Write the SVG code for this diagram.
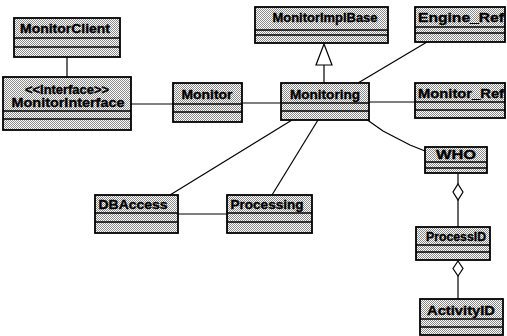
<svg xmlns="http://www.w3.org/2000/svg" width="507" height="336" viewBox="0 0 507 336">
<defs>
<pattern id="stip" patternUnits="userSpaceOnUse" width="2" height="2">
<rect width="2" height="2" fill="#ffffff"/>
<rect width="1" height="1" fill="#8a8a8a"/>
<rect x="1" y="1" width="1" height="1" fill="#8a8a8a"/>
</pattern>
<style>
.box{fill:url(#stip);stroke:#000;stroke-width:1.8}
.div{stroke:#000;stroke-width:1.5;fill:none}
.lbl{font-family:"Liberation Sans",Arial,sans-serif;font-weight:bold;font-size:12px;fill:#000;stroke:#000;stroke-width:0.35;text-anchor:middle}
.con{stroke:#000;stroke-width:1.2;fill:none}
.hollow{fill:#fff;stroke:#000;stroke-width:1.2}
</style>
</defs>
<rect width="507" height="336" fill="#fff"/>
<g id="connectors">
<line class="con" x1="67" y1="57" x2="67" y2="77"/>
<line class="con" x1="131" y1="104" x2="173" y2="104"/>
<line class="con" x1="242" y1="103" x2="281" y2="103"/>
<line class="con" x1="324" y1="65" x2="324" y2="83"/>
<polygon class="hollow" points="324,44 316,65 332,65"/>
<line class="con" x1="427" y1="42" x2="358" y2="83"/>
<line class="con" x1="369" y1="102" x2="415" y2="102"/>
<polyline class="con" points="366,119 383,131 410,145 425,151"/>
<line class="con" x1="292" y1="120" x2="170" y2="195"/>
<line class="con" x1="318" y1="120" x2="272" y2="195"/>
<line class="con" x1="178" y1="214" x2="227" y2="214"/>
<line class="con" x1="458" y1="173" x2="458" y2="184"/>
<polygon class="hollow" points="458,184 463,192 458,200 453,192"/>
<line class="con" x1="458" y1="200" x2="458" y2="227"/>
<polygon class="hollow" points="458,261 463,268.5 458,276 453,268.5"/>
<line class="con" x1="458" y1="276" x2="458" y2="299"/>
</g>
<g id="MonitorClient">
<rect class="box" x="14" y="18" width="106" height="39"/>
<path class="div" d="M14 38H120M14 47H120"/>
<text class="lbl" x="65" y="33" textLength="90" lengthAdjust="spacingAndGlyphs">MonitorClient</text>
</g>
<g id="MonitorInterface">
<rect class="box" x="3" y="77" width="128" height="53"/>
<path class="div" d="M3 111H131M3 119H131"/>
<text class="lbl" x="67" y="94" textLength="84" lengthAdjust="spacingAndGlyphs">&lt;&lt;Interface&gt;&gt;</text>
<text class="lbl" x="68" y="107" textLength="113" lengthAdjust="spacingAndGlyphs">MonitorInterface</text>
</g>
<g id="Monitor">
<rect class="box" x="173" y="83" width="69" height="39"/>
<path class="div" d="M173 104H242M173 112H242"/>
<text class="lbl" x="207" y="99" textLength="51" lengthAdjust="spacingAndGlyphs">Monitor</text>
</g>
<g id="Monitoring">
<rect class="box" x="281" y="83" width="88" height="37"/>
<path class="div" d="M281 103H369M281 111H369"/>
<text class="lbl" x="325" y="99" textLength="70" lengthAdjust="spacingAndGlyphs">Monitoring</text>
</g>
<g id="MonitorImplBase">
<rect class="box" x="255" y="7" width="133" height="36"/>
<path class="div" d="M255 30H388M255 35H388"/>
<text class="lbl" x="325" y="22" textLength="105" lengthAdjust="spacingAndGlyphs">MonitorImplBase</text>
</g>
<g id="Engine_Ref">
<rect class="box" x="415" y="7" width="90" height="35"/>
<path class="div" d="M415 27H505M415 33H505"/>
<text class="lbl" x="461" y="22" textLength="86" lengthAdjust="spacingAndGlyphs">Engine_Ref</text>
</g>
<g id="Monitor_Ref">
<rect class="box" x="415" y="83" width="90" height="35"/>
<path class="div" d="M415 102H505M415 110H505"/>
<text class="lbl" x="461" y="98" textLength="86" lengthAdjust="spacingAndGlyphs">Monitor_Ref</text>
</g>
<g id="WHO">
<rect class="box" x="425" y="147" width="62" height="26"/>
<path class="div" d="M425 162H487M425 168H487"/>
<text class="lbl" x="456" y="159" textLength="40" lengthAdjust="spacingAndGlyphs">WHO</text>
</g>
<g id="ProcessID">
<rect class="box" x="416" y="227" width="74" height="33"/>
<path class="div" d="M416 245H490M416 252H490"/>
<text class="lbl" x="456" y="241" textLength="60" lengthAdjust="spacingAndGlyphs">ProcessID</text>
</g>
<g id="ActivityID">
<rect class="box" x="420" y="299" width="83" height="36"/>
<path class="div" d="M420 319H503M420 327H503"/>
<text class="lbl" x="461" y="315" textLength="68" lengthAdjust="spacingAndGlyphs">ActivityID</text>
</g>
<g id="DBAccess">
<rect class="box" x="95" y="195" width="83" height="38"/>
<path class="div" d="M95 213H178M95 222H178"/>
<text class="lbl" x="133" y="209" textLength="69" lengthAdjust="spacingAndGlyphs">DBAccess</text>
</g>
<g id="Processing">
<rect class="box" x="227" y="195" width="85" height="38"/>
<path class="div" d="M227 213H312M227 222H312"/>
<text class="lbl" x="267" y="209" textLength="73" lengthAdjust="spacingAndGlyphs">Processing</text>
</g>
</svg>
